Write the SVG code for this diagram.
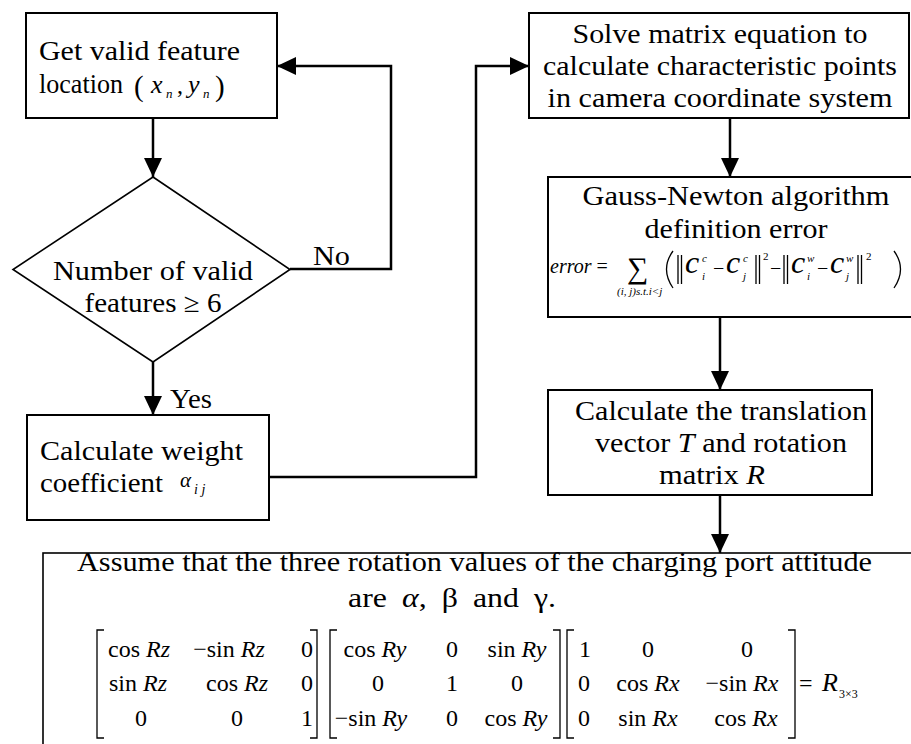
<svg xmlns="http://www.w3.org/2000/svg" width="911" height="744" viewBox="0 0 911 744">
  <style>
    .box { fill: #fff; stroke: #000; stroke-width: 2; }
    .thin { fill: none; stroke: #000; stroke-width: 1.6; }
    .wire { fill: none; stroke: #000; stroke-width: 2.5; }
    .br { fill: none; stroke: #000; stroke-width: 1.3; }
    text { font-family: "Liberation Serif", "Times New Roman", serif; fill: #000; }
    .t { font-size: 27px; }
    .m { font-size: 24px; }
    .it { font-style: italic; }
    .s { font-size: 11px; font-style: italic; }
    .mid { text-anchor: middle; }
  </style>
  <defs>
    <marker id="arrow" markerUnits="userSpaceOnUse" markerWidth="19" markerHeight="18" refX="19" refY="9" orient="auto">
      <path d="M0,0 L19,9 L0,18 z" fill="#000"/>
    </marker>
  </defs>

  <rect width="911" height="744" fill="#fff"/>

  <!-- connectors -->
  <g id="connectors">
    <path class="wire" d="M153,118 V177" marker-end="url(#arrow)"/>
    <path class="wire" d="M290,269 H391 V66 H277" marker-end="url(#arrow)"/>
    <path class="wire" d="M153,362 V415" marker-end="url(#arrow)"/>
    <path class="wire" d="M269,477 H476 V66 H529" marker-end="url(#arrow)"/>
    <path class="wire" d="M730,118 V177" marker-end="url(#arrow)"/>
    <path class="wire" d="M720,317 V390" marker-end="url(#arrow)"/>
    <path class="wire" d="M720,495 V553" marker-end="url(#arrow)"/>
    <text class="t" x="313" y="265" textLength="37" lengthAdjust="spacingAndGlyphs">No</text>
    <text class="t" x="170" y="408" textLength="42" lengthAdjust="spacingAndGlyphs">Yes</text>
  </g>

  <!-- feature location -->
  <g id="get-features">
    <rect class="box" x="26" y="13" width="251" height="105"/>
    <text class="t" x="39" y="60" textLength="201" lengthAdjust="spacingAndGlyphs">Get valid feature</text>
    <text class="t" x="39" y="93" textLength="84" lengthAdjust="spacingAndGlyphs">location</text>
    <text x="134" y="96" font-size="29">(</text>
    <text class="it" x="151" y="93" font-size="26">x</text>
    <text class="it" x="166" y="98" font-size="13">n</text>
    <text x="177" y="93" font-size="24">,</text>
    <text class="it" x="188" y="93" font-size="26">y</text>
    <text class="it" x="203" y="98" font-size="13">n</text>
    <text x="215" y="96" font-size="29">)</text>
  </g>

  <!-- decision -->
  <g id="check-count">
    <polygon class="thin" points="153,177 290,269.5 153,362 13,269.5" fill="#fff"/>
    <text class="t mid" x="153" y="280" textLength="200" lengthAdjust="spacingAndGlyphs">Number of valid</text>
    <text class="t mid" x="153" y="312" textLength="137" lengthAdjust="spacingAndGlyphs">features ≥ 6</text>
  </g>

  <!-- weight coefficient -->
  <g id="weights">
    <rect class="box" x="27" y="415" width="242" height="105"/>
    <text class="t" x="40" y="460" textLength="203" lengthAdjust="spacingAndGlyphs">Calculate weight</text>
    <text class="t" x="40" y="492" textLength="123" lengthAdjust="spacingAndGlyphs">coefficient</text>
    <text class="it" x="180" y="487" font-size="21">α</text>
    <text class="it" x="194" y="494" font-size="14">i j</text>
  </g>

  <!-- matrix equation -->
  <g id="solve-matrix">
    <rect class="box" x="529" y="13" width="380" height="105"/>
    <text class="t mid" x="720" y="43" textLength="295" lengthAdjust="spacingAndGlyphs">Solve matrix equation to</text>
    <text class="t mid" x="720" y="75" textLength="354" lengthAdjust="spacingAndGlyphs">calculate characteristic points</text>
    <text class="t mid" x="720" y="107" textLength="345" lengthAdjust="spacingAndGlyphs">in camera coordinate system</text>
  </g>

  <!-- error definition -->
  <g id="gauss-newton">
    <rect class="box" x="548" y="177" width="380" height="140"/>
    <text class="t mid" x="736" y="205" textLength="307" lengthAdjust="spacingAndGlyphs">Gauss-Newton algorithm</text>
    <text class="t mid" x="736" y="238" textLength="183" lengthAdjust="spacingAndGlyphs">definition error</text>
    <text x="550" y="273" font-size="20"><tspan font-style="italic">error</tspan> =</text>
    <text x="627" y="278" font-size="30">∑</text>
    <text class="s" x="617" y="295" font-size="10">(i, j)s.t.i&lt;j</text>
    <path class="br" d="M673,251 Q660,269 673,288"/>
    <path class="br" d="M678,255 V284 M681.5,255 V284"/>
    <text class="it" x="685" y="273" font-size="32">c</text>
    <text class="s" x="702" y="262">c</text>
    <text class="s" x="702" y="280">i</text>
    <text x="713" y="275" font-size="20">−</text>
    <text class="it" x="726" y="273" font-size="32">c</text>
    <text class="s" x="743" y="262">c</text>
    <text class="s" x="743" y="280">j</text>
    <path class="br" d="M756,255 V284 M759.5,255 V284"/>
    <text x="763" y="260" font-size="11">2</text>
    <text x="770" y="275" font-size="20">−</text>
    <path class="br" d="M784,255 V284 M787.5,255 V284"/>
    <text class="it" x="791" y="273" font-size="32">c</text>
    <text class="s" x="807" y="262">w</text>
    <text class="s" x="807" y="280">i</text>
    <text x="817" y="275" font-size="20">−</text>
    <text class="it" x="830" y="273" font-size="32">c</text>
    <text class="s" x="846" y="262">w</text>
    <text class="s" x="846" y="280">j</text>
    <path class="br" d="M858,255 V284 M861.5,255 V284"/>
    <text x="866" y="260" font-size="11">2</text>
    <path class="br" d="M894,251 Q907,269 894,288"/>
  </g>

  <!-- translation and rotation -->
  <g id="translation">
    <rect class="box" x="548" y="390" width="324" height="105"/>
    <text class="t mid" x="721" y="420" textLength="292" lengthAdjust="spacingAndGlyphs">Calculate the translation</text>
    <text class="t mid" x="721" y="452" textLength="252" lengthAdjust="spacingAndGlyphs">vector <tspan class="it">T</tspan> and rotation</text>
    <text class="t mid" x="712" y="484" textLength="106" lengthAdjust="spacingAndGlyphs">matrix <tspan class="it">R</tspan></text>
  </g>

  <!-- attitude matrix -->
  <g id="attitude">
    <rect class="thin" x="43" y="553" width="875" height="195"/>
    <text class="t" x="77" y="571" textLength="795" lengthAdjust="spacingAndGlyphs">Assume that the three rotation values of the charging port attitude</text>
    <text class="t mid" x="452" y="607" word-spacing="6" textLength="208" lengthAdjust="spacingAndGlyphs">are <tspan class="it">α</tspan>, β and γ.</text>

    <!-- brackets -->
    <path class="br" d="M104,630 H97 V738 H104 M310,630 H317 V738 H310"/>
    <path class="br" d="M337,630 H330 V738 H337 M553,630 H560 V738 H553"/>
    <path class="br" d="M574,630 H567 V738 H574 M788,630 H795 V738 H788"/>

    <!-- Rz -->
    <text class="m mid" x="139" y="657">cos <tspan class="it">Rz</tspan></text>
    <text class="m mid" x="229" y="657">−sin <tspan class="it">Rz</tspan></text>
    <text class="m mid" x="307" y="657">0</text>
    <text class="m mid" x="138" y="691">sin <tspan class="it">Rz</tspan></text>
    <text class="m mid" x="237" y="691">cos <tspan class="it">Rz</tspan></text>
    <text class="m mid" x="307" y="691">0</text>
    <text class="m mid" x="141" y="726">0</text>
    <text class="m mid" x="237" y="726">0</text>
    <text class="m mid" x="307" y="726">1</text>

    <!-- Ry -->
    <text class="m mid" x="375" y="657">cos <tspan class="it">Ry</tspan></text>
    <text class="m mid" x="452" y="657">0</text>
    <text class="m mid" x="517" y="657">sin <tspan class="it">Ry</tspan></text>
    <text class="m mid" x="378" y="691">0</text>
    <text class="m mid" x="452" y="691">1</text>
    <text class="m mid" x="517" y="691">0</text>
    <text class="m mid" x="371" y="726">−sin <tspan class="it">Ry</tspan></text>
    <text class="m mid" x="452" y="726">0</text>
    <text class="m mid" x="516" y="726">cos <tspan class="it">Ry</tspan></text>

    <!-- Rx -->
    <text class="m mid" x="585" y="657">1</text>
    <text class="m mid" x="648" y="657">0</text>
    <text class="m mid" x="747" y="657">0</text>
    <text class="m mid" x="584" y="691">0</text>
    <text class="m mid" x="648" y="691">cos <tspan class="it">Rx</tspan></text>
    <text class="m mid" x="742" y="691">−sin <tspan class="it">Rx</tspan></text>
    <text class="m mid" x="584" y="726">0</text>
    <text class="m mid" x="648" y="726">sin <tspan class="it">Rx</tspan></text>
    <text class="m mid" x="746" y="726">cos <tspan class="it">Rx</tspan></text>

    <text class="m" x="799" y="691">=</text>
    <text class="it" x="822" y="691" font-size="26">R</text>
    <text x="839" y="698" font-size="12">3×3</text>
  </g>
</svg>
